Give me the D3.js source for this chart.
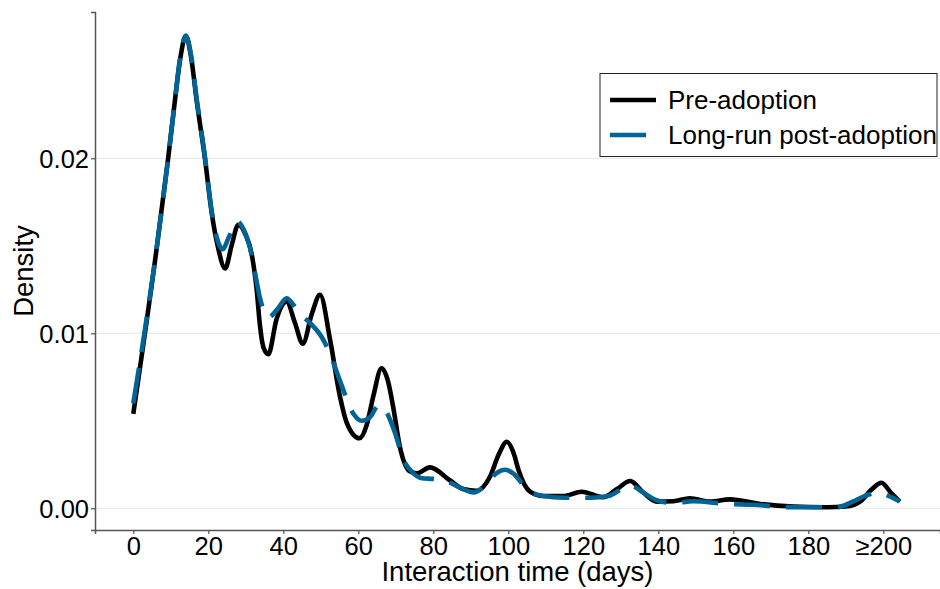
<!DOCTYPE html>
<html>
<head>
<meta charset="utf-8">
<script src="https://cdn.jsdelivr.net/npm/d3@7"></script>
<style>
  body { margin: 0; background: #fff; }
  svg { display: block; font-family: 'Liberation Sans', Arial, Helvetica, sans-serif; }
</style>
</head>
<body>
<div class="root"></div>
<script>
// pre-adoption density
const preDays = [0, 6.2, 9.3, 11.1, 12.6, 14, 15.4, 16.9, 19.1, 20.9, 22.5, 24.5, 26.2, 28, 29.8, 31.6, 32.9, 33.8, 34.7, 36,
  38.2, 40.9, 43.1, 45.2, 47.6, 49.8, 52.5, 55.1, 56.9, 60.3, 62.3, 64, 66.2, 68, 69.3, 71.1, 73.8, 75.6, 79.1, 84.4,
  88, 91.6, 95.1, 97.5, 99.6, 101.5, 102.7, 105.8, 109.3, 114.7, 119.6, 125.3, 129, 132.5, 136, 139.6, 144, 148.4, 153.8,
  159.1, 167.1, 176, 184.9, 190, 193.8, 197, 199.5, 202, 204.4];
const preDensity = [0.0054, 0.0148, 0.0200, 0.0233, 0.0258, 0.0270, 0.0258, 0.0233, 0.0200, 0.0169, 0.0150, 0.0137, 0.0150, 0.0162, 0.0157, 0.0145, 0.0125, 0.0104, 0.0092, 0.0088,
  0.0108, 0.0118, 0.0106, 0.0094, 0.0111, 0.0122, 0.0096, 0.0064, 0.0049, 0.0040, 0.0048, 0.0064, 0.0080, 0.0072, 0.0058, 0.0035, 0.0021, 0.0020, 0.00234, 0.0016,
  0.0011, 0.0010, 0.0018, 0.0031, 0.0038, 0.0031, 0.0022, 0.00095, 0.0007, 0.0007, 0.00095, 0.00063, 0.0011, 0.00156, 0.0009, 0.00038, 0.0004, 0.00057, 0.00038,
  0.00051, 0.00025, 0.0001, 0.00006, 0.0001, 0.00038, 0.0011, 0.00146, 0.0009, 0.00038];

// long-run post-adoption density
const postDays = [0, 6.2, 9.3, 11.1, 12.6, 14, 15.4, 16.9, 19.1, 20.9, 22.5, 23.8, 25.5, 27.6, 29.5, 31.1, 32.5, 33.8, 36,
  38.5, 40.9, 42.8, 44.5, 47.1, 50.2, 52.5, 55.1, 58.7, 60.9, 63.1, 65.5, 67.5, 69.8, 72, 74.7, 77, 80, 82.7, 88, 90.7,
  94.2, 96.8, 99.1, 101.3, 104.9, 109.3, 114.7, 122, 126.7, 132.5, 136, 139.1, 144, 149.3, 158.2, 165.3, 176, 187.6, 192,
  195, 198.7, 201.5, 204.4];
const postDensity = [0.0060, 0.0148, 0.0200, 0.0233, 0.0259, 0.0270, 0.0259, 0.0234, 0.0201, 0.0170, 0.0153, 0.0148, 0.0155, 0.0164, 0.0159, 0.0149, 0.0134, 0.0120, 0.0109,
  0.0114, 0.0120, 0.0116, 0.0111, 0.0106, 0.0098, 0.0088, 0.0073, 0.0054, 0.0050, 0.0052, 0.0059, 0.0055, 0.0043, 0.0028, 0.0020, 0.00172, 0.00168, 0.0016, 0.0011, 0.0009,
  0.0014, 0.0020, 0.0022, 0.0020, 0.0011, 0.0007, 0.0006, 0.0006, 0.0007, 0.0013, 0.0009, 0.0005, 0.0003, 0.0004, 0.00025, 0.0002, 0.00006, 0.00006, 0.0004,
  0.0007, 0.0009, 0.0007, 0.0004];

const xTicks = [0, 20, 40, 60, 80, 100, 120, 140, 160, 180, 200];
const yTicks = [0, 0.01, 0.02];
const seriesNames = ['Pre-adoption', 'Long-run post-adoption'];

const svgWidth = 940;
const svgHeight = 589;
const margin = { top: 12, right: 0, bottom: 59, left: 95 };
const width = svgWidth - margin.left - margin.right;
const height = svgHeight - margin.top - margin.bottom;

const svg = d3.select('.root')
  .append('svg')
  .attr('width', svgWidth)
  .attr('height', svgHeight);

const g = svg.append('g')
  .attr('transform', `translate(${margin.left}, ${margin.top})`);

const x = d3.scaleLinear().domain([-10.21, 215.12]).range([0, width]);
const y = d3.scaleLinear().domain([-0.00124, 0.02836]).range([height, 0]);

// horizontal grid
g.selectAll('.grid')
  .data(yTicks)
  .enter()
  .append('line')
  .attr('class', 'grid')
  .attr('x1', 0)
  .attr('x2', width)
  .attr('y1', d => y(d))
  .attr('y2', d => y(d))
  .attr('stroke', '#ebebeb')
  .attr('stroke-width', 1.2);

const xAxis = g.append('g')
  .attr('transform', `translate(0, ${height})`)
  .call(d3.axisBottom(x).tickValues(xTicks).tickSize(4).tickPadding(3)
    .tickFormat(d => d === 200 ? '≥200' : d));

const yAxis = g.append('g')
  .call(d3.axisLeft(y).tickValues(yTicks).tickSize(4).tickPadding(2)
    .tickFormat(d3.format('.2f')));

[xAxis, yAxis].forEach(a => {
  a.select('.domain').attr('stroke', '#555').attr('stroke-width', 1.5);
  a.selectAll('.tick line').attr('stroke', '#555').attr('stroke-width', 1.2);
  a.selectAll('.tick text').attr('fill', '#000').attr('font-size', 25.5)
    .attr('font-family', "'Liberation Sans', Arial, sans-serif");
});
xAxis.selectAll('.tick text').attr('dy', '0.7em');
yAxis.selectAll('.tick text').attr('dy', '0.36em');

svg.append('text')
  .attr('x', margin.left + width / 2)
  .attr('y', 581)
  .attr('text-anchor', 'middle')
  .attr('font-size', 27.5)
  .text('Interaction time (days)');

svg.append('text')
  .attr('transform', `translate(33, ${margin.top + height / 2}) rotate(-90)`)
  .attr('text-anchor', 'middle')
  .attr('font-size', 27.5)
  .text('Density');

const line = d3.line()
  .curve(d3.curveMonotoneX)
  .x(d => x(d[0]))
  .y(d => y(d[1]));

const series = [
  { id: seriesNames[0], values: d3.zip(preDays, preDensity), color: '#000', dash: null },
  { id: seriesNames[1], values: d3.zip(postDays, postDensity), color: '#006496', dash: '36,16' }
];

g.selectAll('.line')
  .data(series)
  .enter()
  .append('path')
  .attr('class', 'line')
  .attr('d', d => line(d.values))
  .attr('fill', 'none')
  .attr('stroke', d => d.color)
  .attr('stroke-width', 4.6)
  .attr('stroke-dasharray', d => d.dash);

// legend
const legend = svg.append('g').attr('transform', 'translate(600, 73.5)');
legend.append('rect')
  .attr('width', 337)
  .attr('height', 83)
  .attr('fill', '#fff')
  .attr('stroke', '#222')
  .attr('stroke-width', 1);

const item = legend.selectAll('.item')
  .data(series)
  .enter()
  .append('g')
  .attr('class', 'item')
  .attr('transform', (d, i) => `translate(0, ${26.5 + i * 35})`);

item.append('line')
  .attr('x1', 10)
  .attr('x2', 56)
  .attr('stroke', d => d.color)
  .attr('stroke-width', 4.6)
  .attr('stroke-dasharray', d => d.dash);

item.append('text')
  .attr('x', 68)
  .attr('y', 9)
  .attr('font-size', 26)
  .text(d => d.id);
</script>
</body>
</html>
